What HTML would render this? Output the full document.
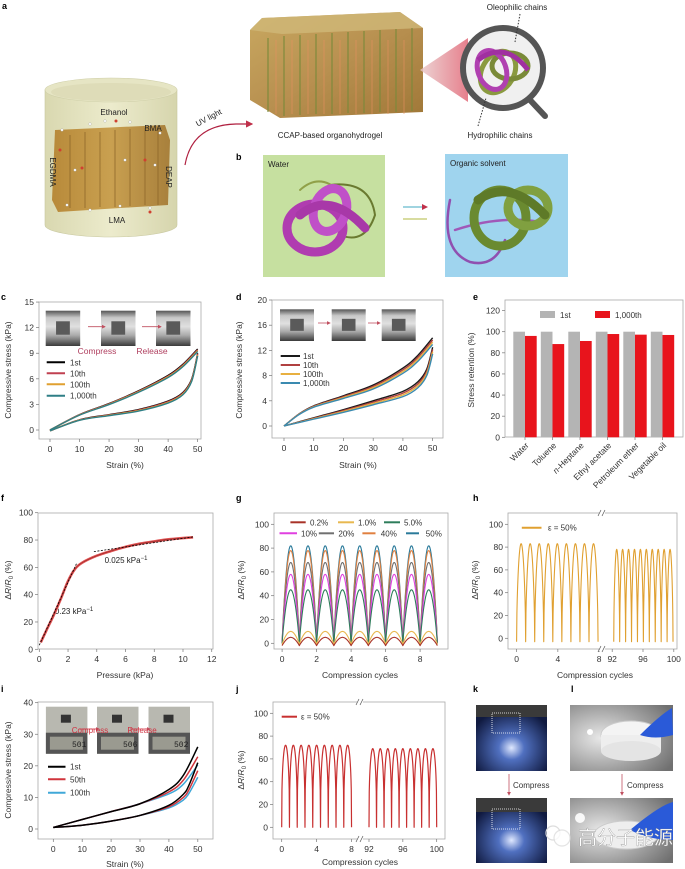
<!DOCTYPE html>
<html><head><meta charset="utf-8">
<style>
html,body{margin:0;padding:0;background:#fff;}
svg{display:block;font-family:"Liberation Sans","Noto Sans CJK SC",sans-serif;}
</style></head>
<body>
<svg id="s" xmlns="http://www.w3.org/2000/svg" width="685" height="869" viewBox="0 0 685 869">
<defs>
<linearGradient id="cyl" x1="0" x2="1"><stop offset="0" stop-color="#d9d8b0"/><stop offset=".5" stop-color="#ecebcc"/><stop offset="1" stop-color="#d6d5ad"/></linearGradient>
<linearGradient id="blk" x1="0" x2="1"><stop offset="0" stop-color="#b88a3a"/><stop offset=".5" stop-color="#c9a050"/><stop offset="1" stop-color="#a8803c"/></linearGradient>
<linearGradient id="gel" x1="0" y1="0" x2="1" y2="1"><stop offset="0" stop-color="#c8a860"/><stop offset=".5" stop-color="#b89050"/><stop offset="1" stop-color="#a07838"/></linearGradient>
<linearGradient id="cone" x1="0" x2="1"><stop offset="0" stop-color="#e8c8c8"/><stop offset="1" stop-color="#e06070"/></linearGradient>
<linearGradient id="ph" x1="0" y1="0" x2="0" y2="1"><stop offset="0" stop-color="#555"/><stop offset=".2" stop-color="#c8c8c8"/><stop offset=".45" stop-color="#e0e0e0"/><stop offset=".7" stop-color="#aaa"/><stop offset="1" stop-color="#3a3a3a"/></linearGradient>
<radialGradient id="kglow" cx=".5" cy=".65" r=".6"><stop offset="0" stop-color="#dfe8ff"/><stop offset=".3" stop-color="#5070c0"/><stop offset="1" stop-color="#101a40"/></radialGradient>
<radialGradient id="lglow" cx=".3" cy=".5" r=".8"><stop offset="0" stop-color="#e8e8e8"/><stop offset="1" stop-color="#707070"/></radialGradient>
<marker id="ar" markerWidth="6" markerHeight="6" refX="5" refY="3" orient="auto"><path d="M0,0 L6,3 L0,6 z" fill="#c0304a"/></marker>
<marker id="ar2" markerWidth="5" markerHeight="5" refX="4" refY="2.5" orient="auto"><path d="M0,0 L5,2.5 L0,5 z" fill="#c05060"/></marker>
</defs>

<!-- ===== Panel a ===== -->
<text x="2" y="9" font-size="9" font-weight="bold">a</text>
<path d="M45,90 L45,225 A66,12 0 0 0 177,225 L177,90 Z" fill="url(#cyl)" stroke="#c8c8a0" stroke-width="0.6"/>
<ellipse cx="111" cy="90" rx="66" ry="12" fill="#e6e5c4" stroke="#cfcfa8" stroke-width="0.6"/>
<ellipse cx="111" cy="92" rx="60" ry="9" fill="#dedcb8"/>
<path d="M55,130 L165,125 L170,140 L168,205 L58,212 L52,200 Z" fill="url(#blk)"/>
<g stroke="#8a6428" stroke-width="1.2" opacity=".6">
<line x1="70" y1="135" x2="70" y2="208"/><line x1="85" y1="132" x2="85" y2="208"/><line x1="100" y1="132" x2="100" y2="207"/><line x1="115" y1="130" x2="115" y2="207"/><line x1="130" y1="129" x2="130" y2="206"/><line x1="145" y1="128" x2="145" y2="205"/><line x1="158" y1="127" x2="158" y2="205"/>
</g>
<g fill="#fff" stroke="#999" stroke-width=".3">
<circle cx="62" cy="130" r="1.3"/><circle cx="90" cy="124" r="1.3"/><circle cx="105" cy="121" r="1.3"/><circle cx="130" cy="122" r="1.3"/><circle cx="160" cy="133" r="1.3"/><circle cx="67" cy="205" r="1.3"/><circle cx="90" cy="210" r="1.3"/><circle cx="120" cy="206" r="1.3"/><circle cx="150" cy="208" r="1.3"/><circle cx="75" cy="170" r="1.3"/><circle cx="155" cy="165" r="1.3"/><circle cx="125" cy="160" r="1.3"/>
</g>
<g fill="#d04030"><circle cx="116" cy="121" r="1.5"/><circle cx="60" cy="150" r="1.5"/><circle cx="150" cy="212" r="1.5"/><circle cx="145" cy="160" r="1.5"/><circle cx="82" cy="168" r="1.5"/></g>
<text x="114" y="115" font-size="8" text-anchor="middle" fill="#222">Ethanol</text>
<text x="153" y="131" font-size="8" text-anchor="middle" fill="#222">BMA</text>
<text x="117" y="223" font-size="8" text-anchor="middle" fill="#222">LMA</text>
<text transform="translate(50,172) rotate(90)" font-size="8" text-anchor="middle" fill="#222">EGDMA</text>
<text transform="translate(166,177) rotate(90)" font-size="8" text-anchor="middle" fill="#222">DEAP</text>
<text transform="translate(210,120) rotate(-28)" font-size="8" text-anchor="middle" fill="#222">UV light</text>
<path d="M185,165 Q192,125 236,124 L252,124" fill="none" stroke="#b02040" stroke-width="1.2" marker-end="url(#ar)"/>
<!-- gel block -->
<polygon points="262,18 400,12 423,28 423,112 280,118 250,100 250,30" fill="url(#gel)"/>
<polygon points="250,30 262,18 400,12 423,28 282,34" fill="#d0b878" opacity=".8"/>
<g stroke="#7a8a3a" stroke-width="2" opacity=".55">
<line x1="268" y1="38" x2="268" y2="112"/><line x1="284" y1="36" x2="284" y2="116"/><line x1="300" y1="35" x2="300" y2="115"/><line x1="316" y1="34" x2="316" y2="114"/><line x1="332" y1="33" x2="332" y2="114"/><line x1="348" y1="32" x2="348" y2="113"/><line x1="364" y1="31" x2="364" y2="113"/><line x1="380" y1="30" x2="380" y2="112"/><line x1="396" y1="29" x2="396" y2="112"/><line x1="412" y1="28" x2="412" y2="111"/>
</g>
<g stroke="#e89060" stroke-width="1" opacity=".6">
<line x1="276" y1="40" x2="276" y2="114"/><line x1="292" y1="40" x2="292" y2="114"/><line x1="308" y1="40" x2="308" y2="114"/><line x1="324" y1="40" x2="324" y2="114"/><line x1="340" y1="40" x2="340" y2="114"/><line x1="356" y1="40" x2="356" y2="114"/><line x1="372" y1="40" x2="372" y2="114"/><line x1="388" y1="40" x2="388" y2="114"/><line x1="404" y1="40" x2="404" y2="114"/>
</g>
<text x="330" y="138" font-size="8" text-anchor="middle" fill="#222">CCAP-based organohydrogel</text>
<polygon points="420,70 468,38 468,102" fill="url(#cone)" opacity=".8"/>
<line x1="530" y1="100" x2="545" y2="116" stroke="#555" stroke-width="6" stroke-linecap="round"/>
<circle cx="503" cy="68" r="40" fill="#f0f0f0" stroke="#555" stroke-width="6"/>
<g fill="none" stroke-width="5">
<ellipse cx="498" cy="72" rx="16" ry="22" stroke="#8a9a40" transform="rotate(30 498 72)"/>
<ellipse cx="510" cy="66" rx="18" ry="13" stroke="#7a8a38"/>
<ellipse cx="492" cy="70" rx="14" ry="20" stroke="#b040b0" transform="rotate(-20 492 70)"/>
<path d="M478,60 Q505,40 528,70" stroke="#a030a0"/>
</g>
<line x1="520" y1="14" x2="515" y2="42" stroke="#333" stroke-dasharray="1.5,1.5"/>
<line x1="478" y1="126" x2="486" y2="98" stroke="#333" stroke-dasharray="1.5,1.5"/>
<text x="517" y="10" font-size="8" text-anchor="middle" fill="#222">Oleophilic chains</text>
<text x="500" y="138" font-size="8" text-anchor="middle" fill="#222">Hydrophilic chains</text>

<!-- ===== Panel b ===== -->
<text x="236" y="160" font-size="9" font-weight="bold">b</text>
<rect x="263" y="155" width="122" height="122" fill="#c6e0a0"/>
<text x="268" y="167" font-size="8" fill="#222">Water</text>
<g fill="none" stroke-linecap="round">
<path d="M330,185 Q370,180 375,215 Q365,245 340,235" stroke="#6a7a30" stroke-width="2"/>
<path d="M300,190 Q320,172 340,192" stroke="#90a048" stroke-width="2"/>
<ellipse cx="315" cy="228" rx="28" ry="24" stroke="#b03cb0" stroke-width="9"/>
<ellipse cx="330" cy="210" rx="16" ry="22" stroke="#c050c8" stroke-width="9" transform="rotate(20 330 210)"/>
<path d="M300,215 Q330,190 365,228" stroke="#a838a8" stroke-width="9"/>
</g>
<line x1="403" y1="207" x2="427" y2="207" stroke="#40a8c0" stroke-width="1" marker-end="url(#ar)"/>
<line x1="427" y1="219" x2="403" y2="219" stroke="#b0b840" stroke-width="1"/>
<rect x="445" y="154" width="123" height="123" fill="#9fd4ee"/>
<text x="450" y="166" font-size="8" fill="#222">Organic solvent</text>
<g fill="none" stroke-linecap="round">
<path d="M450,200 Q440,250 470,262 Q495,268 505,240" stroke="#9050b0" stroke-width="2.5"/>
<path d="M455,230 Q500,215 540,222" stroke="#a058b8" stroke-width="2.5"/>
<ellipse cx="500" cy="218" rx="26" ry="28" stroke="#6a8a30" stroke-width="9"/>
<ellipse cx="528" cy="208" rx="20" ry="18" stroke="#80a040" stroke-width="9"/>
<path d="M478,200 Q510,178 545,215" stroke="#5e7a28" stroke-width="9"/>
</g>

<!-- ===== Panel labels ===== -->
<g font-size="9" font-weight="bold">
<text x="1" y="300">c</text><text x="236" y="300">d</text><text x="473" y="300">e</text>
<text x="1" y="501">f</text><text x="236" y="501">g</text><text x="473" y="501">h</text>
<text x="1" y="692">i</text><text x="236" y="692">j</text><text x="473" y="692">k</text><text x="571" y="692">l</text>
</g>

<!-- insets c -->
<g id="insets"></g>

<!-- legend e -->
<rect x="540" y="311" width="15" height="7" fill="#b4b4b4"/>
<text x="560" y="318" font-size="8" fill="#333">1st</text>
<rect x="595" y="311" width="15" height="7" fill="#e8141c"/>
<text x="615" y="318" font-size="8" fill="#333">1,000th</text>

<!-- f annotations -->
<text x="126" y="563" font-size="8" text-anchor="middle" fill="#222">0.025 kPa<tspan dy="-3" font-size="6">−1</tspan></text>
<text x="74" y="614" font-size="8" text-anchor="middle" fill="#222">0.23 kPa<tspan dy="-3" font-size="6">−1</tspan></text>

<!-- k / l photos -->
<rect x="476" y="705" width="71" height="66" fill="url(#kglow)"/>
<rect x="476" y="705" width="71" height="12" fill="#3a3a3a"/>
<rect x="492" y="713" width="28" height="20" fill="none" stroke="#fff" stroke-dasharray="1,1" stroke-width=".8"/>
<rect x="476" y="798" width="71" height="65" fill="url(#kglow)"/>
<rect x="476" y="798" width="71" height="14" fill="#3a3a3a"/>
<rect x="492" y="809" width="28" height="20" fill="none" stroke="#fff" stroke-dasharray="1,1" stroke-width=".8"/>
<line x1="509" y1="774" x2="509" y2="795" stroke="#c05060" stroke-width=".8" marker-end="url(#ar2)"/>
<text x="513" y="788" font-size="8" fill="#333">Compress</text>
<rect x="570" y="705" width="103" height="66" fill="url(#lglow)"/>
<ellipse cx="631" cy="735" rx="30" ry="14" fill="#f4f4f4" stroke="#ccc"/>
<rect x="601" y="735" width="60" height="16" fill="#eee"/>
<ellipse cx="631" cy="751" rx="30" ry="10" fill="#e4e4e4"/>
<path d="M640,735 Q660,715 672,708 L673,735 Q655,740 640,735 Z" fill="#2a5ad8"/>
<circle cx="590" cy="732" r="3" fill="#fff"/>
<rect x="570" y="798" width="103" height="65" fill="url(#lglow)"/>
<ellipse cx="626" cy="835" rx="32" ry="14" fill="#eee" stroke="#ccc"/>
<path d="M630,830 Q660,805 673,802 L673,840 Q650,840 630,830 Z" fill="#2a5ad8"/>
<circle cx="580" cy="818" r="5" fill="#fff" opacity=".9"/>
<line x1="622" y1="774" x2="622" y2="795" stroke="#c05060" stroke-width=".8" marker-end="url(#ar2)"/>
<text x="627" y="788" font-size="8" fill="#333">Compress</text>
<g fill="none" stroke="#ddd" stroke-width="1.2"><circle cx="553" cy="833" r="7"/><circle cx="562" cy="838" r="8" fill="#fff" opacity=".8"/></g>
<text x="578" y="844" font-size="19" fill="#fff" stroke="#888" stroke-width=".3" font-family="'Noto Sans CJK SC','WenQuanYi Zen Hei',sans-serif">高分子能源</text>

<g id="dyn"></g>
</svg>
<script>
(function(){
var NS="http://www.w3.org/2000/svg",g=document.getElementById('dyn'),ins=document.getElementById('insets');
function el(t,a,p,txt){var e=document.createElementNS(NS,t);for(var k in a)e.setAttribute(k,a[k]);if(txt!=null)e.textContent=txt;(p||g).appendChild(e);return e;}
function cr(pts){ if(pts.length<2)return '';var d='M'+pts[0][0].toFixed(2)+','+pts[0][1].toFixed(2);
 for(var i=0;i<pts.length-1;i++){var p0=pts[i-1]||pts[i],p1=pts[i],p2=pts[i+1],p3=pts[i+2]||p2;
  var c1=[p1[0]+(p2[0]-p0[0])/6,p1[1]+(p2[1]-p0[1])/6],c2=[p2[0]-(p3[0]-p1[0])/6,p2[1]-(p3[1]-p1[1])/6];
  d+='C'+c1[0].toFixed(2)+','+c1[1].toFixed(2)+' '+c2[0].toFixed(2)+','+c2[1].toFixed(2)+' '+p2[0].toFixed(2)+','+p2[1].toFixed(2);}
 return d;}
function poly(pts){return 'M'+pts.map(function(p){return p[0].toFixed(2)+','+p[1].toFixed(2)}).join('L');}
function frame(f,xt,yt,xm,ym){
 el('rect',{x:f[0],y:f[1],width:f[2]-f[0],height:f[3]-f[1],fill:'none',stroke:'#aaa','stroke-width':0.8});
 xt.forEach(function(t){var x=xm(t[0]);el('line',{x1:x,y1:f[3],x2:x,y2:f[3]+3,stroke:'#777','stroke-width':.7});
  el('text',{x:x,y:f[3]+13,'font-size':8.5,'text-anchor':'middle',fill:'#333'},null,t[1]);});
 yt.forEach(function(t){var y=ym(t[0]);el('line',{x1:f[0]-3,y1:y,x2:f[0],y2:y,stroke:'#777','stroke-width':.7});
  el('text',{x:f[0]-5,y:y+3,'font-size':8.5,'text-anchor':'end',fill:'#333'},null,t[1]);});
}
function rng(a,b,s){var r=[];for(var v=a;v<=b+1e-9;v+=s)r.push([v,String(Math.round(v))]);return r;}
function ylab(x,y,txt,dr){var t=el('text',{transform:'translate('+x+','+y+') rotate(-90)','font-size':8.5,'text-anchor':'middle',fill:'#333'},null,dr?null:txt);
 if(dr){var a=el('tspan',{},t,'Δ');el('tspan',{'font-style':'italic'},t,'R');el('tspan',{},t,'/');el('tspan',{'font-style':'italic'},t,'R');el('tspan',{'font-size':6,dy:2},t,'0');el('tspan',{dy:-2},t,' (%)');}}
function xlab(x,y,t){el('text',{x:x,y:y,'font-size':8.5,'text-anchor':'middle',fill:'#333'},null,t);}
function leg(x1,x2,y,c,t,tx){el('line',{x1:x1,y1:y,x2:x2,y2:y,stroke:c,'stroke-width':2});el('text',{x:tx,y:y+3,'font-size':8,fill:'#333'},null,t);}
function photo(x,y,w,h,p){var gg=el('g',{},p||ins);el('rect',{x:x,y:y,width:w,height:h,fill:'url(#ph)'},gg);
 el('rect',{x:x+w*0.3,y:y+h*0.3,width:w*0.4,height:h*0.38,fill:'#5a5a5a'},gg);}
function path(d,c,w){el('path',{d:d,fill:'none',stroke:c,'stroke-width':w||1.2,'stroke-linejoin':'round'});}

// ---- c ----
var cx=function(v){return 50+2.953*v},cy=function(v){return 430-8.53*v};
frame([39,302,201,439],rng(0,50,10),rng(0,15,3),cx,cy);
ylab(11,370,'Compressive stress (kPa)');xlab(125,468,'Strain (%)');
[[45.7,310.7],[101,310.7],[156,310.7]].forEach(function(p){photo(p[0],p[1],34.5,35.3);});
el('line',{x1:88,y1:326.7,x2:105,y2:326.7,stroke:'#c05060','stroke-width':.8,'marker-end':'url(#ar2)'});
el('line',{x1:142,y1:326.7,x2:161,y2:326.7,stroke:'#c05060','stroke-width':.8,'marker-end':'url(#ar2)'});
el('text',{x:97,y:354,'font-size':8.5,'text-anchor':'middle',fill:'#b04060'},null,'Compress');
el('text',{x:152,y:354,'font-size':8.5,'text-anchor':'middle',fill:'#b04060'},null,'Release');
var cL=[[0,0],[10,1.8],[20,3.1],[30,4.6],[40,6.4],[45,7.7],[50,9.5]],cU=[[50,9],[48,6],[45,4.4],[40,3.4],[30,2.4],[20,1.8],[10,1.2],[0,-0.1]];
var cc=['#000','#c04050','#e0a030','#2f7f86'];
cc.forEach(function(c,i){var o=i*0.1;
 path(cr(cL.map(function(p){return [cx(p[0]),cy(p[1]-o*p[0]/50)]})),c,1.4);
 path(cr(cU.map(function(p){return [cx(p[0]),cy(p[1]-o*p[0]/50)]})),c,1.4);});
['1st','10th','100th','1,000th'].forEach(function(t,i){leg(46.7,65,[362.3,373.3,384.3,395.7][i],cc[i],t,70);});

// ---- d ----
var dx=function(v){return 284+2.973*v},dy=function(v){return 426-6.3*v};
frame([272,300,443,438],rng(0,50,10),rng(0,20,4),dx,dy);
ylab(242,370,'Compressive stress (kPa)');xlab(358,468,'Strain (%)');
[[280,309.3],[331.7,309.3],[381.7,309.3]].forEach(function(p){photo(p[0],p[1],34,31.7);});
el('line',{x1:318,y1:323,x2:330,y2:323,stroke:'#c05060','stroke-width':.8,'marker-end':'url(#ar2)'});
el('line',{x1:368,y1:323,x2:380,y2:323,stroke:'#c05060','stroke-width':.8,'marker-end':'url(#ar2)'});
var dL=[[0,0],[5,1.9],[10,3.2],[20,4.8],[30,6.5],[40,9.2],[45,11.2],[50,14]],dU=[[50,12.5],[48,9],[45,7],[40,5.5],[30,4],[20,2.6],[10,1.3],[0,0]];
var dc=['#1a1a1a','#b04040','#e8b040','#3a8ab0'];
dc.forEach(function(c,i){var o=i*0.35;
 path(cr(dL.map(function(p){return [dx(p[0]),dy(p[1]-o*p[0]/50)]})),c,1.4);
 path(cr(dU.map(function(p){return [dx(p[0]),dy(p[1]-o*p[0]/50)]})),c,1.4);});
['1st','10th','100th','1,000th'].forEach(function(t,i){leg(280.7,300,[356,365,374,383][i],dc[i],t,303);});

// ---- e ----
var ey=function(v){return 437.3-1.056*v};
frame([505,300,683,437],[],rng(0,120,20),null,ey);
ylab(474,370,'Stress retention (%)');
var rv=[96,88.3,91.2,97.8,97.2,96.9],nm=['Water','Toluene','n-Heptane','Ethyl acetate','Petroleum ether','Vegetable oil'];
rv.forEach(function(r,i){var x=513.3+27.5*i;
 el('rect',{x:x,y:ey(100),width:11.7,height:ey(0)-ey(100),fill:'#b4b4b4'});
 el('rect',{x:x+11.7,y:ey(r),width:11.7,height:ey(0)-ey(r),fill:'#e8141c'});
 var t=el('text',{transform:'translate('+(x+16)+',446) rotate(-45)','font-size':8.5,'text-anchor':'end',fill:'#333'});
 if(i==2){el('tspan',{'font-style':'italic'},t,'n');el('tspan',{},t,'-Heptane');}else t.textContent=nm[i];
 el('line',{x1:x+11.7,y1:437,x2:x+11.7,y2:440,stroke:'#777','stroke-width':.7});});

// ---- f ----
var fx=function(v){return 39.3+14.37*v},fy=function(v){return 649.3-1.366*v};
frame([38,513,213,649],rng(0,12,2),rng(0,100,20),fx,fy);
ylab(11,580,'',1);xlab(125,678,'Pressure (kPa)');
var fp=[[0.1,5],[0.5,14],[1,25],[1.5,37],[2,50],[2.5,59],[3,63.5],[4,68.5],[5,72],[6,75],[7,77.3],[8,79],[9,80.5],[10.7,82]];
path(cr(fp.map(function(p){return [fx(p[0]),fy(p[1])]})),'#e05050',2.6);
path(cr(fp.map(function(p){return [fx(p[0]),fy(p[1])]})),'#7a1a1a',0.5);
el('line',{x1:fx(0),y1:fy(3),x2:fx(2.6),y2:fy(63),stroke:'#000','stroke-width':.8,'stroke-dasharray':'2,1.5'});
el('line',{x1:fx(3.8),y1:fy(71.5),x2:fx(10.7),y2:fy(82.3),stroke:'#000','stroke-width':.8,'stroke-dasharray':'2,1.5'});

// ---- g ----
var gx=function(v){return 282.1+17.25*v},gy=function(v){return 643.3-1.19*v};
frame([274,513,448,649],rng(0,8,2),rng(0,100,20),gx,gy);
ylab(244,580,'',1);xlab(360,678,'Compression cycles');
var gs=[[5,'#a83228',-2],[10,'#e8b850',-1],[45,'#2e7d5b',0],[58,'#e040e0',0],[68,'#707070',0],[78,'#e08040',0],[82,'#2a7a9a',0]];
var gord=[6,5,4,3,2,1,0];
gs.slice().reverse().forEach(function(s){var pts=[];for(var t=0;t<=9.0001;t+=0.04){var f=t-Math.floor(t);var v=s[0]*Math.pow(Math.sin(Math.PI*f),0.85)+s[2]*(1-Math.sin(Math.PI*f));pts.push([gx(t),gy(v)]);}
 path(poly(pts),s[1],1.1);});
// purple fill-ish overlay for 10% dense region
leg(290.4,305.7,522.3,'#a83228','0.2%',310);leg(338,354,522.3,'#e8b850','1.0%',358);leg(384,400,522.3,'#2e7d5b','5.0%',404);
leg(279.5,297,533.3,'#e040e0','10%',301);leg(318.8,334,533.3,'#707070','20%',338.4);leg(362.4,375.5,533.3,'#e08040','40%',380.8);leg(406,419,533.3,'#2a7a9a','50%',425.8);

// ---- h ----
var hx=function(v){return v<=8?516.6+10.31*v:612.2+7.7*(v-92)},hy=function(v){return 638.3-1.14*v};
frame([508,513,677,649],[[0,'0'],[4,'4'],[8,'8'],[92,'92'],[96,'96'],[100,'100']],rng(0,100,20),hx,hy);
ylab(478,580,'',1);xlab(595,678,'Compression cycles');
function brk(x,y1,y2){[y1,y2].forEach(function(y){el('rect',{x:x-3,y:y-2,width:6,height:4,fill:'#fff'});
 el('line',{x1:x-4,y1:y+3,x2:x-1,y2:y-3,stroke:'#555','stroke-width':.7});el('line',{x1:x,y1:y+3,x2:x+3,y2:y-3,stroke:'#555','stroke-width':.7});});}
function cyc(xm,ym,a,b,n,pk,mn,pw,c,w){var pts=[],L=(b-a)/n;for(var t=a;t<=b+1e-6;t+=L/30){var f=((t-a)/L)%1;var s=Math.sin(Math.PI*f);pts.push([xm(t),ym(mn+(pk-mn)*Math.pow(s,pw))]);}path(poly(pts),c,w);}
cyc(hx,hy,0,7.9,9,83,-3,0.55,'#e0a030',1.1);cyc(hx,hy,92.2,99.9,10,78,-3,0.55,'#e0a030',1.1);
brk(602,513,649);
leg(521.8,541.5,527.7,'#e0a030','',548);
el('text',{x:548,y:530.7,'font-size':8,fill:'#333'},null,'ε = 50%');

// ---- i ----
var ix=function(v){return 53.3+2.89*v},iy=function(v){return 829-3.158*v};
frame([38,702,213,839],rng(0,50,10),rng(0,40,10),ix,iy);
ylab(11,770,'Compressive stress (kPa)');xlab(125,867,'Strain (%)');
[[45.9,706.7],[97,706.7],[148.5,706.7]].forEach(function(p){var gg=el('g',{},g);el('rect',{x:p[0],y:p[1],width:41.5,height:47.3,fill:'#b8b8b0'},gg);
 el('rect',{x:p[0]+15,y:p[1]+8,width:10,height:8,fill:'#333'},gg);el('rect',{x:p[0],y:p[1]+26,width:41.5,height:21,fill:'#555'},gg);
 el('rect',{x:p[0]+4,y:p[1]+30,width:33,height:13,fill:'#9a9a90'},gg);});
el('text',{x:72,y:747,'font-size':8,fill:'#222','font-family':'Liberation Mono'},null,'501');
el('text',{x:123,y:747,'font-size':8,fill:'#222','font-family':'Liberation Mono'},null,'506');
el('text',{x:174,y:747,'font-size':8,fill:'#222','font-family':'Liberation Mono'},null,'502');
el('line',{x1:79,y1:729,x2:99,y2:729,stroke:'#d03040','stroke-width':.8,'marker-end':'url(#ar2)'});
el('line',{x1:130,y1:729,x2:150,y2:729,stroke:'#d03040','stroke-width':.8,'marker-end':'url(#ar2)'});
el('text',{x:90,y:733,'font-size':8,'text-anchor':'middle',fill:'#d03040'},null,'Compress');
el('text',{x:142,y:733,'font-size':8,'text-anchor':'middle',fill:'#d03040'},null,'Release');
var iL=[[0,0.5],[10,3],[20,5.5],[30,8],[40,12.5],[45,17],[50,26]],iU=[[50,21],[47,14],[45,11],[40,7.5],[30,4.3],[20,2.5],[10,1.2],[0,0.5]];
[['#000',1],['#d0343c',0.88],['#40a8d8',0.78]].reverse().forEach(function(s){
 path(cr(iL.map(function(p){return [ix(p[0]),iy(p[1]*(p[0]>30?s[1]+(1-s[1])*(50-p[0])/20:1))]})),s[0],1.5);
 path(cr(iU.map(function(p){return [ix(p[0]),iy(p[1]*(p[0]>30?s[1]+(1-s[1])*(50-p[0])/20:1))]})),s[0],1.5);});
leg(48,65.5,766.7,'#000','1st',70);leg(48,65.5,779.3,'#d0343c','50th',70);leg(48,65.5,792.7,'#40a8d8','100th',70);

// ---- j ----
var jx=function(v){return v<=8?281.7+8.73*v:369+8.46*(v-92)},jy=function(v){return 827.3-1.14*v};
frame([273,702,445,839],[[0,'0'],[4,'4'],[8,'8'],[92,'92'],[96,'96'],[100,'100']],rng(0,100,20),jx,jy);
ylab(244,770,'',1);xlab(360,865,'Compression cycles');
cyc(jx,jy,0,8,9,72,0,0.35,'#c83030',1.2);cyc(jx,jy,92,100,9,69,0,0.35,'#c83030',1.2);
brk(360,702,839);
leg(281.7,297,716.7,'#c83030','',301);
el('text',{x:301,y:719.7,'font-size':8,fill:'#333'},null,'ε = 50%');
})();
</script>
</body></html>
